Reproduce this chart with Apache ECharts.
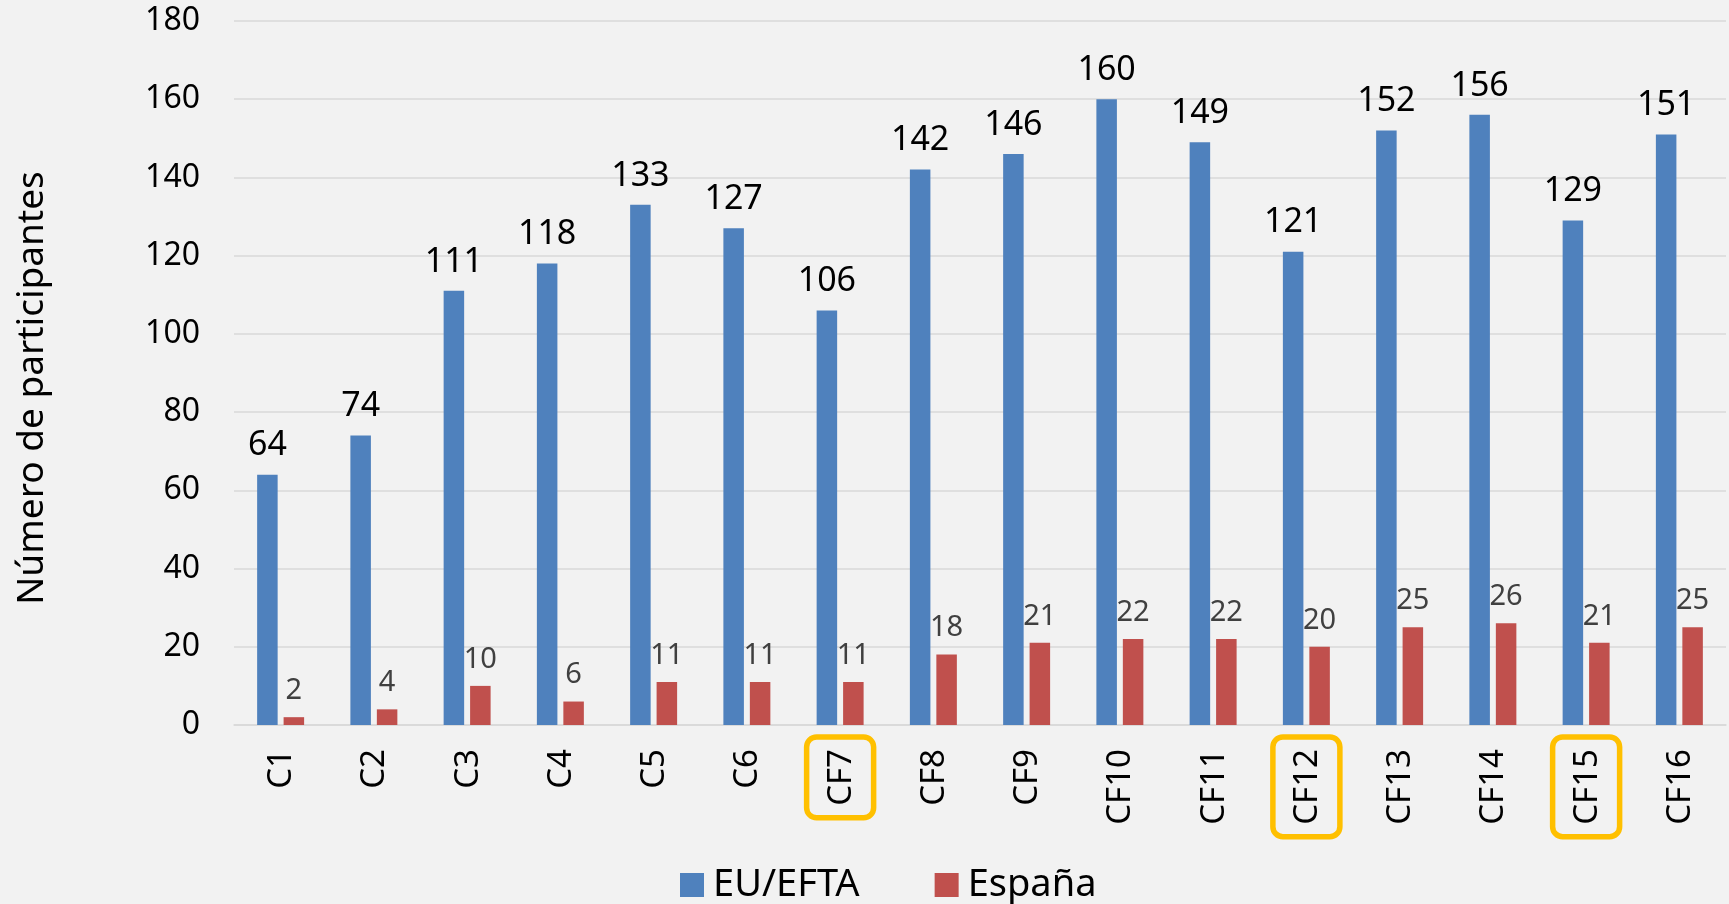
<!DOCTYPE html>
<html>
<head>
<meta charset="utf-8">
<script src="https://cdn.jsdelivr.net/npm/echarts@6/dist/echarts.min.js"></script>
<style>
html,body{margin:0;padding:0;background:#F2F2F2;}
#chart{width:1729px;height:904px;}
</style>
</head>
<body>
<div id="chart"></div>
<script>
const categories = ['C1','C2','C3','C4','C5','C6','CF7','CF8','CF9','CF10','CF11','CF12','CF13','CF14','CF15','CF16'];
const euEfta = [64,74,111,118,133,127,106,142,146,160,149,121,152,156,129,151];
const espana = [2,4,10,6,11,11,11,18,21,22,22,20,25,26,21,25];
const highlighted = ['CF7','CF12','CF15'];
const yTicks = {min:0, max:180, interval:20};

const FONT = '"Noto Sans", "Open Sans", sans-serif';
const chart = echarts.init(document.getElementById('chart'));
chart.setOption({
  backgroundColor:'#F2F2F2',
  animation:false,
  textStyle:{fontFamily:FONT},
  grid:{left:234, right:3, top:21, bottom:179, containLabel:false},
  legend:{
    left:675, top:861,
    icon:'rect', itemWidth:24, itemHeight:24, itemGap:75,
    textStyle:{fontSize:38, color:'#000', fontFamily:FONT, padding:[0,0,0,4]},
    data:['EU/EFTA','España']
  },
  xAxis:{
    type:'category', data:categories,
    axisLine:{lineStyle:{color:'#D9D9D9', width:1.5}},
    axisTick:{show:false},
    axisLabel:{
      rotate:90, margin:12, interval:0,
      formatter:function(v){ return highlighted.indexOf(v)>=0 ? '{hl|'+v+'}' : '{n|'+v+'}'; },
      rich:{
        hl:{fontSize:33, color:'#000', fontFamily:FONT, borderColor:'#FFC000', borderWidth:5.5, borderRadius:10, padding:[18,12,16,12]},
        n:{fontSize:33, color:'#000', fontFamily:FONT, borderColor:'rgba(0,0,0,0)', borderWidth:5.5, padding:[18,12,16,12]}
      }
    }
  },
  yAxis:{
    type:'value', min:yTicks.min, max:yTicks.max, interval:yTicks.interval,
    name:'Número de participantes', nameLocation:'middle', nameGap:183, nameRotate:90,
    nameTextStyle:{fontSize:37, color:'#000', fontFamily:FONT, padding:[0,30,0,0]},
    axisLine:{show:false}, axisTick:{show:false},
    axisLabel:{fontSize:32, color:'#000', margin:34, fontFamily:FONT},
    splitLine:{lineStyle:{color:'#D9D9D9', width:1.5}}
  },
  series:[
    {name:'EU/EFTA', type:'bar', data:euEfta, barWidth:'22%', barGap:'29%',
     itemStyle:{color:'#4F81BD'},
     label:{show:true, position:'top', distance:12, fontSize:34, color:'#000', fontFamily:FONT}},
    {name:'España', type:'bar', data:espana, barWidth:'22%',
     itemStyle:{color:'#C0504D'},
     label:{show:true, position:'top', distance:12, fontSize:29, color:'#404040', fontFamily:FONT}}
  ]
});
</script>
</body>
</html>
